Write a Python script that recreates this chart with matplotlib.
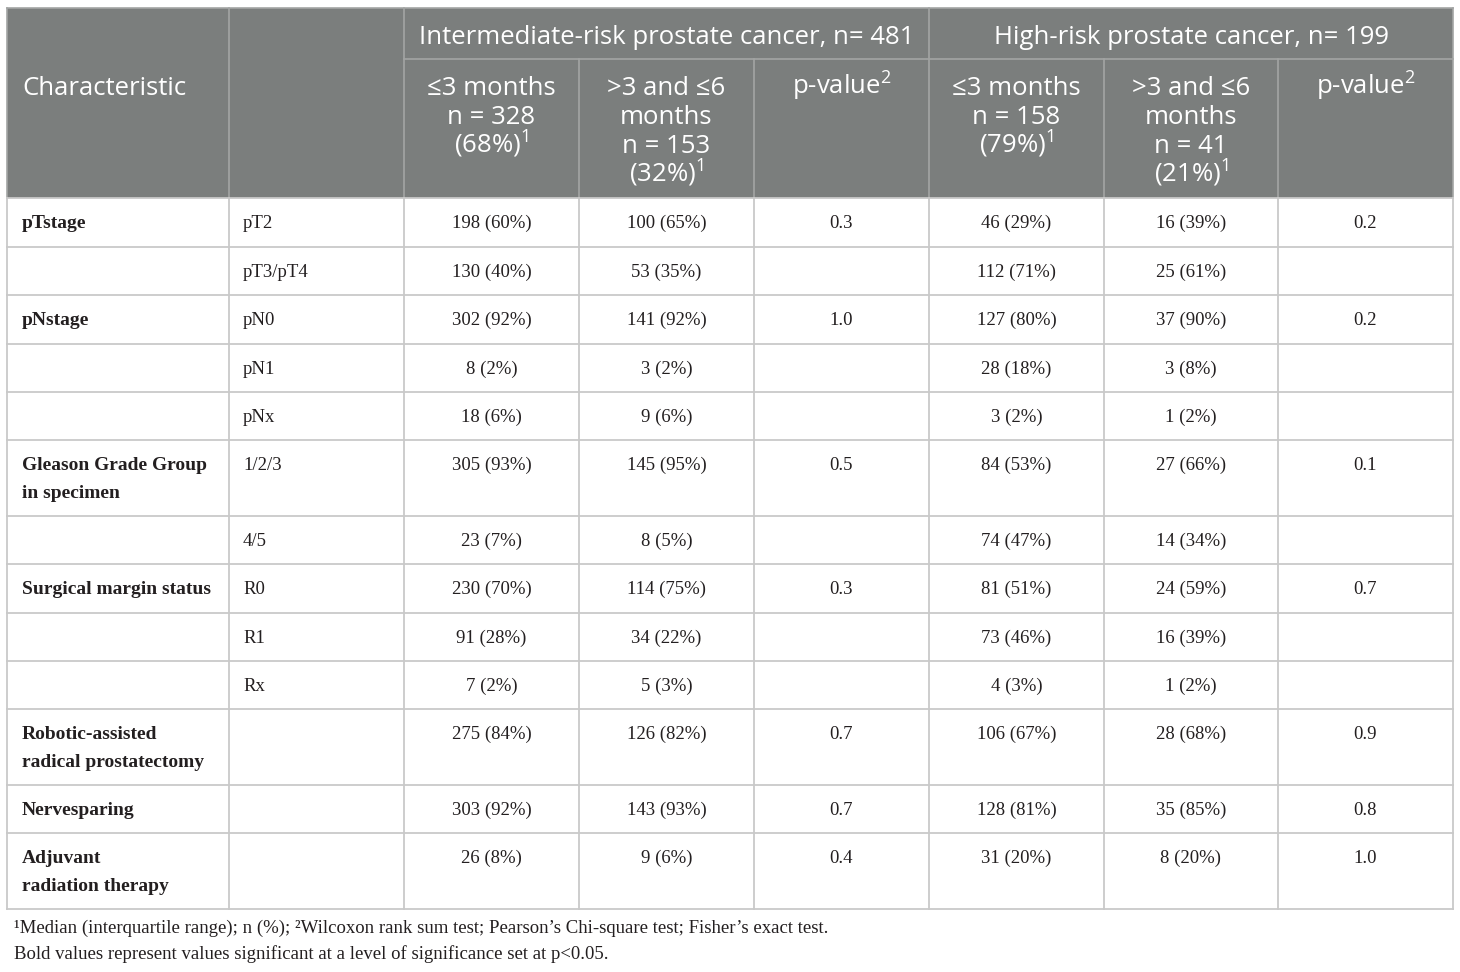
import matplotlib
matplotlib.use("Agg")
import matplotlib.pyplot as plt

plt.rcParams['mathtext.fontset'] = 'custom'
plt.rcParams['mathtext.rm'] = 'Open Sans'
plt.rcParams['mathtext.it'] = 'Open Sans:italic'

# table data
group_titles = ["Intermediate-risk prostate cancer, n= 481", "High-risk prostate cancer, n= 199"]
col_heads = [["≤3 months", "n = 328", "(68%)$^1$"],
             [">3 and ≤6", "months", "n = 153", "(32%)$^1$"],
             ["p-value$^{\\it 2}$"],
             ["≤3 months", "n = 158", "(79%)$^1$"],
             [">3 and ≤6", "months", "n = 41", "(21%)$^1$"],
             ["p-value$^{\\it 2}$"]]

characteristics = [["pTstage"], [], ["pNstage"], [], [], ["Gleason Grade Group", "in specimen"], [],
                   ["Surgical margin status"], [], [], ["Robotic-assisted", "radical prostatectomy"],
                   ["Nervesparing"], ["Adjuvant", "radiation therapy"]]
levels = ["pT2", "pT3/pT4", "pN0", "pN1", "pNx", "1/2/3", "4/5", "R0", "R1", "Rx", "", "", ""]
ir_le3 = ["198 (60%)", "130 (40%)", "302 (92%)", "8 (2%)", "18 (6%)", "305 (93%)", "23 (7%)",
          "230 (70%)", "91 (28%)", "7 (2%)", "275 (84%)", "303 (92%)", "26 (8%)"]
ir_3to6 = ["100 (65%)", "53 (35%)", "141 (92%)", "3 (2%)", "9 (6%)", "145 (95%)", "8 (5%)",
           "114 (75%)", "34 (22%)", "5 (3%)", "126 (82%)", "143 (93%)", "9 (6%)"]
ir_p = ["0.3", "", "1.0", "", "", "0.5", "", "0.3", "", "", "0.7", "0.7", "0.4"]
hr_le3 = ["46 (29%)", "112 (71%)", "127 (80%)", "28 (18%)", "3 (2%)", "84 (53%)", "74 (47%)",
          "81 (51%)", "73 (46%)", "4 (3%)", "106 (67%)", "128 (81%)", "31 (20%)"]
hr_3to6 = ["16 (39%)", "25 (61%)", "37 (90%)", "3 (8%)", "1 (2%)", "27 (66%)", "14 (34%)",
           "24 (59%)", "16 (39%)", "1 (2%)", "28 (68%)", "35 (85%)", "8 (20%)"]
hr_p = ["0.2", "", "0.2", "", "", "0.1", "", "0.7", "", "", "0.9", "0.8", "1.0"]

footnotes = ["¹Median (interquartile range); n (%); ²Wilcoxon rank sum test; Pearson’s Chi-square test; Fisher’s exact test.",
             "Bold values represent values significant at a level of significance set at p<0.05."]

# layout (pixels)
col_x = [7, 229, 404, 579, 754, 929, 1104, 1278, 1453]
row_y = [198, 247, 295, 344, 392, 440, 516, 564, 613, 661, 709, 785, 833, 909]
head_top, head_mid = 8, 59

header_gray = '#7b7e7d'
grid_col = '#c9c9c9'
txt_col = '#231f20'
sans = ['Open Sans', 'DejaVu Sans']
serif = ['Liberation Serif', 'DejaVu Serif']
hfs = 18.5
bfs = 13.5

fig = plt.figure(figsize=(14.6, 9.72), dpi=100)
ax = fig.add_axes([0, 0, 1, 1])
ax.set_xlim(0, 1460)
ax.set_ylim(972, 0)
ax.axis('off')

# header background
ax.add_patch(plt.Rectangle((col_x[0], head_top), col_x[-1] - col_x[0], row_y[0] - head_top,
                           facecolor=header_gray, edgecolor='none'))

# header lines
hl = '#a3a5a4'
ax.plot([col_x[0], col_x[-1]], [head_top, head_top], color=hl, lw=1.2)
ax.plot([col_x[2], col_x[-1]], [head_mid, head_mid], color=hl, lw=1.2)
for i, x in enumerate(col_x):
    y0 = head_top if i in (0, 1, 2, 5, 8) else head_mid
    ax.plot([x, x], [y0, row_y[0]], color=hl, lw=1.2)

# header text (baseline = line centre + ~7px)
ax.text((col_x[2] + col_x[5]) / 2, 44, group_titles[0], color='white',
        fontsize=hfs, family=sans, ha='center', va='baseline')
ax.text((col_x[5] + col_x[8]) / 2, 44, group_titles[1], color='white',
        fontsize=hfs, family=sans, ha='center', va='baseline')
ax.text(22, 95, "Characteristic", color='white', fontsize=hfs, family=sans, ha='left', va='baseline')
for j, lines in enumerate(col_heads):
    cx = (col_x[j + 2] + col_x[j + 3]) / 2
    for k, s in enumerate(lines):
        ax.text(cx, 95 + k * 29, s, color='white', fontsize=hfs, family=sans,
                ha='center', va='baseline')

# body grid
for y in row_y:
    ax.plot([col_x[0], col_x[-1]], [y, y], color=grid_col, lw=1.3)
for x in col_x:
    ax.plot([x, x], [row_y[0], row_y[-1]], color=grid_col, lw=1.3)

# body text
cols = [ir_le3, ir_3to6, ir_p, hr_le3, hr_3to6, hr_p]
for i in range(len(levels)):
    ty = row_y[i] + 25
    for k, s in enumerate(characteristics[i]):
        ax.text(22, ty + k * 28, s, fontsize=bfs + 0.5, family=serif, weight='bold',
                ha='left', va='center', color=txt_col)
    ax.text(243, ty, levels[i], fontsize=bfs, family=serif, ha='left', va='center', color=txt_col)
    for j, c in enumerate(cols):
        cx = (col_x[j + 2] + col_x[j + 3]) / 2
        ax.text(cx, ty, c[i], fontsize=bfs, family=serif, ha='center', va='center', color=txt_col)

ax.text(14, 928, footnotes[0], fontsize=bfs, family=serif, ha='left', va='center', color=txt_col)
ax.text(14, 954, footnotes[1], fontsize=bfs, family=serif, ha='left', va='center', color=txt_col)

fig.savefig("out.png", dpi=100)
